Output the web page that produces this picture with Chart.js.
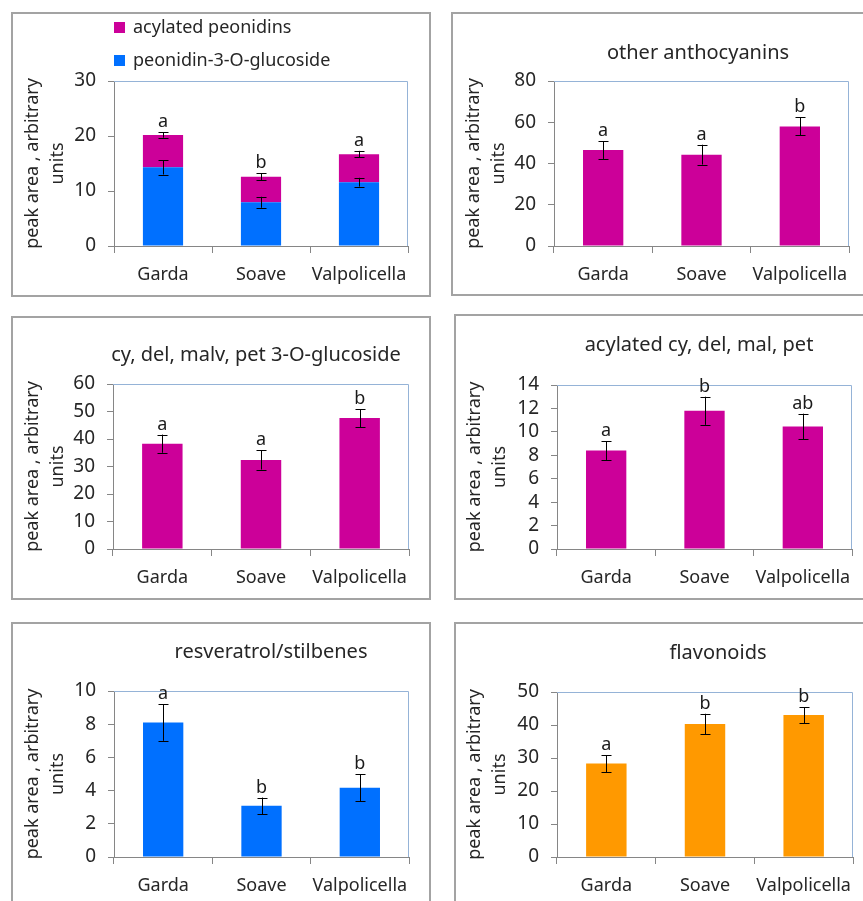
<!DOCTYPE html>
<html>
<head>
<meta charset="utf-8">
<script src="https://cdn.jsdelivr.net/npm/chart.js@4.4.1/dist/chart.umd.min.js"></script>
<style>
  body { margin: 0; background: #fff; width: 863px; height: 901px; overflow: hidden; position: relative; }
  .panel { position: absolute; border: 2px solid #a3a3a3; box-sizing: border-box; background: #fff; overflow: hidden; }
  .panel canvas { position: absolute; left: 0; top: 0; }
</style>
</head>
<body>
<div class="panel" id="p1"><canvas></canvas></div>
<div class="panel" id="p2"><canvas></canvas></div>
<div class="panel" id="p3"><canvas></canvas></div>
<div class="panel" id="p4"><canvas></canvas></div>
<div class="panel" id="p5"><canvas></canvas></div>
<div class="panel" id="p6"><canvas></canvas></div>
<script>
// data
var categories = ['Garda', 'Soave', 'Valpolicella'];

var peonidinGlc = [14.3, 7.95, 11.6];
var peonidinGlcErr = [1.3, 1.0, 0.8];
var acylPeonidins = [5.9, 4.65, 5.1];
var acylPeonidinsErr = [0.5, 0.6, 0.6];
var peonidinLetters = ['a', 'b', 'a'];

var otherAnth = [46.5, 44.3, 58.0];
var otherAnthErr = [4.3, 4.8, 4.4];
var otherAnthLetters = ['a', 'a', 'b'];

var glucosides = [38.3, 32.4, 47.6];
var glucosidesErr = [3.3, 3.5, 3.3];
var glucosidesLetters = ['a', 'a', 'b'];

var acylOther = [8.4, 11.8, 10.45];
var acylOtherErr = [0.8, 1.2, 1.1];
var acylOtherLetters = ['a', 'b', 'ab'];

var stilbenes = [8.1, 3.08, 4.17];
var stilbenesErr = [1.1, 0.5, 0.8];
var stilbenesLetters = ['a', 'b', 'b'];

var flavonoids = [28.3, 40.3, 43.0];
var flavonoidsErr = [2.6, 3.1, 2.4];
var flavonoidsLetters = ['a', 'b', 'b'];

var MAGENTA = '#cc0099';
var BLUE = '#0070ff';
var ORANGE = '#ff9900';
var AXIS = '#868686';
var FRAME = '#95b3d7';
var TEXT = '#262626';
var FONT = "'Noto Sans', sans-serif";

var panels = [
  { id: 'p1', box: [11, 12, 431, 297], plot: [114, 81, 408, 246], yTitleX: 32.5, max: 30, step: 10,
    series: [
      { label: 'peonidin-3-O-glucoside', data: peonidinGlc, err: peonidinGlcErr, color: BLUE },
      { label: 'acylated peonidins', data: acylPeonidins, err: acylPeonidinsErr, color: MAGENTA }
    ],
    letters: peonidinLetters, legend: true },
  { id: 'p2', box: [451, 12, 875, 296], plot: [554, 81, 849, 246], yTitleX: 474, max: 80, step: 20,
    series: [{ label: 'other anthocyanins', data: otherAnth, err: otherAnthErr, color: MAGENTA }],
    letters: otherAnthLetters, title: 'other anthocyanins', titleX: 698, titleY: 53 },
  { id: 'p3', box: [11, 316, 431, 600], plot: [113, 384, 409, 549], yTitleX: 32.5, max: 60, step: 10,
    series: [{ label: 'cy, del, malv, pet 3-O-glucoside', data: glucosides, err: glucosidesErr, color: MAGENTA }],
    letters: glucosidesLetters, title: 'cy, del, malv, pet 3-O-glucoside', titleX: 256, titleY: 355 },
  { id: 'p4', box: [454, 314, 875, 600], plot: [557, 385, 852, 549], yTitleX: 474.5, max: 14, step: 2,
    series: [{ label: 'acylated cy, del, mal, pet', data: acylOther, err: acylOtherErr, color: MAGENTA }],
    letters: acylOtherLetters, title: 'acylated cy, del, mal, pet', titleX: 699, titleY: 345 },
  { id: 'p5', box: [11, 622, 431, 910], plot: [114, 691, 409, 857], yTitleX: 32.5, max: 10, step: 2,
    series: [{ label: 'resveratrol/stilbenes', data: stilbenes, err: stilbenesErr, color: BLUE }],
    letters: stilbenesLetters, title: 'resveratrol/stilbenes', titleX: 271, titleY: 652 },
  { id: 'p6', box: [454, 622, 875, 910], plot: [557, 692, 853, 857], yTitleX: 474.5, max: 50, step: 10,
    series: [{ label: 'flavonoids', data: flavonoids, err: flavonoidsErr, color: ORANGE }],
    letters: flavonoidsLetters, title: 'flavonoids', titleX: 718, titleY: 653 }
];

// error bars, significance letters, frame, title, legend
var extras = {
  id: 'extras',
  afterDatasetsDraw: function (chart) {
    var cfg = chart.options.plugins.extras;
    var ctx = chart.ctx;
    var ys = chart.scales.y;
    var area = chart.chartArea;
    ctx.save();
    // top and right edge of plot area
    ctx.strokeStyle = FRAME;
    ctx.lineWidth = 1;
    ctx.beginPath();
    ctx.moveTo(area.left, area.top + 0.5);
    ctx.lineTo(area.right - 0.5, area.top + 0.5);
    ctx.lineTo(area.right - 0.5, area.bottom);
    ctx.stroke();

    ctx.strokeStyle = '#000';
    var tops = [0, 0, 0];
    cfg.series.forEach(function (s, si) {
      var meta = chart.getDatasetMeta(si);
      s.data.forEach(function (v, i) {
        tops[i] += v;
        var x = Math.round(meta.data[i].x) + 0.5;
        var y1 = ys.getPixelForValue(tops[i] + s.err[i]);
        var y2 = ys.getPixelForValue(tops[i] - s.err[i]);
        ctx.beginPath();
        ctx.moveTo(x, y1); ctx.lineTo(x, y2);
        ctx.moveTo(x - 5, Math.round(y1) + 0.5); ctx.lineTo(x + 5, Math.round(y1) + 0.5);
        ctx.moveTo(x - 5, Math.round(y2) + 0.5); ctx.lineTo(x + 5, Math.round(y2) + 0.5);
        ctx.stroke();
      });
    });

    var last = cfg.series[cfg.series.length - 1];
    var meta = chart.getDatasetMeta(cfg.series.length - 1);
    ctx.fillStyle = '#1a1a1a';
    ctx.font = '18px ' + FONT;
    ctx.textAlign = 'center';
    ctx.textBaseline = 'alphabetic';
    cfg.letters.forEach(function (t, i) {
      var y = ys.getPixelForValue(tops[i] + last.err[i]);
      ctx.fillText(t, meta.data[i].x, y - 5);
    });

    var cl = cfg.box[0] + 2, ct = cfg.box[1] + 2;
    ctx.fillStyle = TEXT;
    if (cfg.title) {
      ctx.font = '20px ' + FONT;
      ctx.textBaseline = 'middle';
      ctx.fillText(cfg.title, cfg.titleX - cl, cfg.titleY - ct);
    }
    if (cfg.legend) {
      ctx.font = '18px ' + FONT;
      ctx.textAlign = 'left';
      ctx.textBaseline = 'middle';
      var rows = [cfg.series[1], cfg.series[0]];
      rows.forEach(function (s, r) {
        var y = 22 + r * 33;
        ctx.fillStyle = s.color;
        ctx.fillRect(114 - cl, y - ct, 11, 11);
        ctx.fillStyle = TEXT;
        ctx.fillText(s.label, 133 - cl, y + 6 - ct);
      });
    }
    ctx.restore();
  }
};

panels.forEach(function (cfg) {
  var div = document.getElementById(cfg.id);
  var b = cfg.box, p = cfg.plot;
  div.style.left = b[0] + 'px';
  div.style.top = b[1] + 'px';
  div.style.width = (b[2] - b[0]) + 'px';
  div.style.height = (b[3] - b[1]) + 'px';
  var cl = b[0] + 2, ct = b[1] + 2, cw = b[2] - b[0] - 4, ch = b[3] - b[1] - 4;
  var canvas = div.querySelector('canvas');
  canvas.width = cw;
  canvas.height = ch;

  new Chart(canvas, {
    type: 'bar',
    data: {
      labels: categories,
      datasets: cfg.series.map(function (s) {
        return { label: s.label, data: s.data, backgroundColor: s.color,
                 categoryPercentage: 1, barPercentage: 0.41 };
      })
    },
    options: {
      responsive: false,
      animation: false,
      layout: { padding: { top: p[1] - ct, right: cl + cw - p[2], left: 0, bottom: 0 } },
      plugins: {
        legend: { display: false },
        tooltip: { enabled: false },
        extras: cfg
      },
      scales: {
        x: {
          stacked: true,
          offset: true,
          grid: { offset: true, drawOnChartArea: false, tickLength: 7, color: AXIS },
          border: { color: AXIS },
          ticks: { font: { family: FONT, size: 18 }, color: TEXT, padding: 11, maxRotation: 0 },
          afterFit: function (s) { s.height = ct + ch - p[3]; }
        },
        y: {
          stacked: true,
          min: 0,
          max: cfg.max,
          ticks: { stepSize: cfg.step, autoSkip: false, font: { family: FONT, size: 19 }, color: TEXT, padding: 12 },
          grid: { drawOnChartArea: false, tickLength: 6, color: AXIS },
          border: { color: AXIS },
          title: {
            display: true,
            text: ['peak area , arbitrary', 'units'],
            font: { family: FONT, size: 18, lineHeight: 1.4 },
            color: TEXT,
            padding: { top: cfg.yTitleX - cl - 12.6, bottom: 0 }
          },
          afterFit: function (s) { s.width = p[0] - cl; }
        }
      }
    },
    plugins: [extras]
  });
});
</script>
</body>
</html>
